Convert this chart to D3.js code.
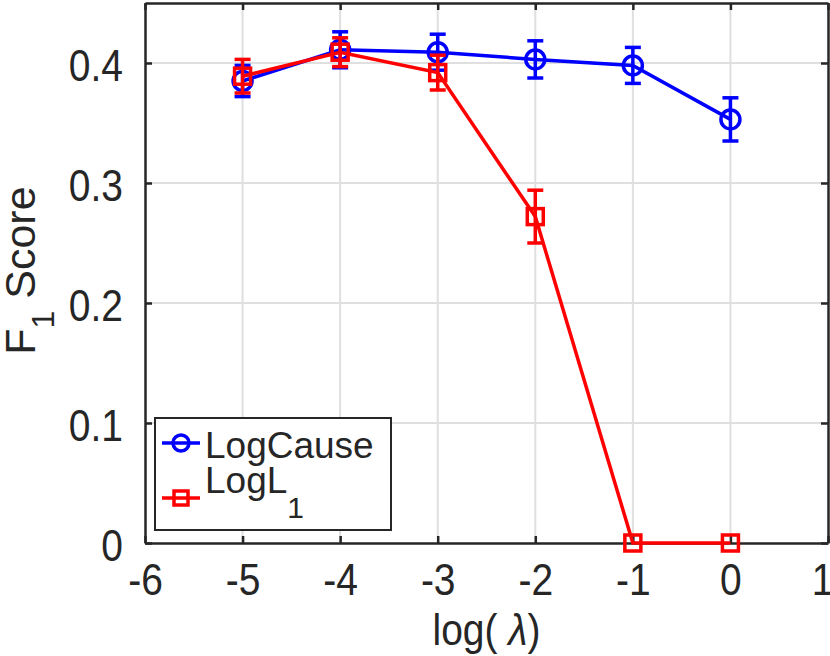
<!DOCTYPE html>
<html>
<head>
<meta charset="utf-8">
<script src="https://cdn.jsdelivr.net/npm/d3@7"></script>
<style>
  body { margin: 0; background: #fff; }
  text { font-family: "Liberation Sans", Arial, Helvetica, sans-serif; fill: #262626; }
</style>
</head>
<body>
<svg id="chart"></svg>
<script>
// log(lambda) positions
const lambdas = [-5, -4, -3, -2, -1, 0];

// LogCause F1 mean and error
const logCause = [0.385, 0.411, 0.409, 0.403, 0.398, 0.353];
const logCauseErr = [0.013, 0.015, 0.015, 0.0155, 0.015, 0.018];

// LogL1 F1 mean and error
const logL1 = [0.389, 0.409, 0.392, 0.272, 0, 0];
const logL1Err = [0.014, 0.012, 0.0145, 0.022, 0, 0];

const xTicks = [-6, -5, -4, -3, -2, -1, 0, 1];
const yTicks = [0, 0.1, 0.2, 0.3, 0.4];

const width = 830, height = 656;
const margin = { left: 145, right: 2, top: 3, bottom: 113 };
const stretch = 1.12; // glyphs are a little taller than wide in the reference

const svg = d3.select("#chart")
    .attr("width", width)
    .attr("height", height);

const x = d3.scaleLinear().domain([-6, 1]).range([margin.left, width - margin.right]);
const y = d3.scaleLinear().domain([0, 0.45]).range([height - margin.bottom, margin.top]);

const axisColor = "#262626";
const gridColor = "#dfdfdf";

// grid
const grid = svg.append("g");
grid.selectAll(".gx")
    .data(xTicks.slice(1, -1))
    .enter().append("line")
    .attr("x1", d => x(d)).attr("x2", d => x(d))
    .attr("y1", y(0)).attr("y2", y(0.45))
    .attr("stroke", gridColor).attr("stroke-width", 2);
grid.selectAll(".gy")
    .data(yTicks.slice(1))
    .enter().append("line")
    .attr("x1", x(-6)).attr("x2", x(1))
    .attr("y1", d => y(d)).attr("y2", d => y(d))
    .attr("stroke", gridColor).attr("stroke-width", 2);

// axes
const xAxis = svg.append("g")
    .attr("transform", `translate(0,${y(0)})`)
    .call(d3.axisBottom(x).tickValues(xTicks).tickSizeInner(-7).tickSizeOuter(0).tickFormat(d => String(d)));
const yAxis = svg.append("g")
    .attr("transform", `translate(${x(-6)},0)`)
    .call(d3.axisLeft(y).tickValues(yTicks).tickSizeInner(-7).tickSizeOuter(0).tickFormat(d => d === 0 ? "0" : d3.format(".1f")(d)));
const xTop = svg.append("g")
    .attr("transform", `translate(0,${y(0.45)})`)
    .call(d3.axisTop(x).tickValues(xTicks).tickSizeInner(-7).tickSizeOuter(0).tickFormat(""));
const yRight = svg.append("g")
    .attr("transform", `translate(${x(1)},0)`)
    .call(d3.axisRight(y).tickValues(yTicks).tickSizeInner(-7).tickSizeOuter(0).tickFormat(""));

[xAxis, yAxis, xTop, yRight].forEach(g => {
    g.select(".domain").attr("stroke", axisColor).attr("stroke-width", 2.5);
    g.selectAll(".tick line").attr("stroke", axisColor).attr("stroke-width", 2.5);
    g.selectAll(".tick text").style("font-size", "39px").attr("fill", axisColor);
});

xAxis.selectAll(".tick text")
    .attr("y", 52 / stretch).attr("dy", 0)
    .attr("dx", d => d === 1 ? -6 : 0)
    .attr("transform", `scale(1,${stretch})`);
yAxis.selectAll(".tick text")
    .attr("x", -22).attr("y", 17 / stretch).attr("dy", 0)
    .attr("transform", `scale(1,${stretch})`);

// axis labels
svg.append("text")
    .attr("transform", `translate(${x(-2.5)},645) scale(1,${stretch})`)
    .attr("text-anchor", "middle")
    .style("font-size", "39px")
    .html('log( <tspan font-style="italic">λ</tspan>)');

const yl = svg.append("text")
    .attr("transform", `translate(35,${y(0.227)}) rotate(-90)`)
    .attr("text-anchor", "middle")
    .style("font-size", "43px");
yl.append("tspan").text("F");
yl.append("tspan").attr("dy", 19).style("font-size", "32px").text("1");
yl.append("tspan").attr("dy", -19).text(" Score");

// series
const series = [
    { name: "LogCause", vals: logCause, err: logCauseErr, color: "#0000ff", marker: "circle" },
    { name: "LogL1", vals: logL1, err: logL1Err, color: "#ff0000", marker: "square" }
];

const line = d3.line().x(d => x(d.x)).y(d => y(d.y));

function drawMarker(g, type, cx, cy, color) {
    if (type === "circle") {
        g.append("circle").attr("cx", cx).attr("cy", cy).attr("r", 9.5)
            .attr("fill", "none").attr("stroke", color).attr("stroke-width", 3.5);
    } else {
        g.append("rect").attr("x", cx - 8).attr("y", cy - 8).attr("width", 16).attr("height", 16)
            .attr("fill", "none").attr("stroke", color).attr("stroke-width", 3.5);
    }
}

series.forEach(s => {
    const pts = lambdas.map((l, i) => ({ x: l, y: s.vals[i], e: s.err[i] }));
    const g = svg.append("g");
    g.append("path").datum(pts).attr("d", line)
        .attr("fill", "none").attr("stroke", s.color).attr("stroke-width", 3.5);
    pts.forEach(p => {
        if (p.e > 0) {
            const cx = x(p.x);
            g.append("line").attr("x1", cx).attr("x2", cx).attr("y1", y(p.y - p.e)).attr("y2", y(p.y + p.e))
                .attr("stroke", s.color).attr("stroke-width", 3.5);
            [p.y - p.e, p.y + p.e].forEach(v => {
                g.append("line").attr("x1", cx - 8).attr("x2", cx + 8).attr("y1", y(v)).attr("y2", y(v))
                    .attr("stroke", s.color).attr("stroke-width", 3.5);
            });
        }
        drawMarker(g, s.marker, x(p.x), y(p.y), s.color);
    });
});

// legend
const lg = svg.append("g");
lg.append("rect").attr("x", 155).attr("y", 418).attr("width", 236).attr("height", 112)
    .attr("fill", "#fff").attr("stroke", axisColor).attr("stroke-width", 2);
const rows = [443, 498];
const baselines = [458, 493];
series.forEach((s, i) => {
    const ry = rows[i];
    lg.append("line").attr("x1", 162).attr("x2", 200).attr("y1", ry).attr("y2", ry)
        .attr("stroke", s.color).attr("stroke-width", 3.5);
    if (s.marker === "circle") {
        lg.append("circle").attr("cx", 181).attr("cy", ry).attr("r", 8)
            .attr("fill", "none").attr("stroke", s.color).attr("stroke-width", 3.5);
    } else {
        lg.append("rect").attr("x", 174).attr("y", ry - 7).attr("width", 14).attr("height", 14)
            .attr("fill", "none").attr("stroke", s.color).attr("stroke-width", 3.5);
    }
    const t = lg.append("text").attr("x", 205).attr("y", baselines[i]).style("font-size", "37px").attr("fill", "#000");
    if (s.name === "LogL1") {
        t.append("tspan").text("LogL");
        t.append("tspan").attr("dy", 25).style("font-size", "30px").text("1");
    } else {
        t.text(s.name);
    }
});
</script>
</body>
</html>
